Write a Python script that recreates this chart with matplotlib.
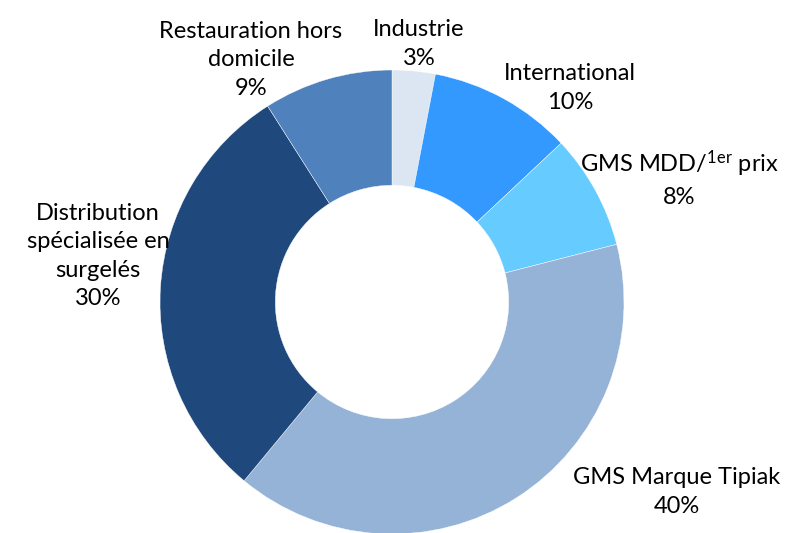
import matplotlib
matplotlib.use("Agg")
import matplotlib.pyplot as plt

plt.rcParams['font.family'] = ['Lato', 'DejaVu Sans']
plt.rcParams['mathtext.fontset'] = 'custom'
plt.rcParams['mathtext.rm'] = 'Lato'

# Data (clockwise from top)
labels = ["Industrie", "International", "GMS MDD/$\\mathregular{^{1er}}$ prix",
          "GMS Marque Tipiak", "Distribution\nspécialisée en\nsurgelés",
          "Restauration hors\ndomicile"]
shares = [3, 10, 8, 40, 30, 9]
colors = ["#dce6f2", "#3399ff", "#66ccff", "#95b3d7", "#1f497d", "#4f81bd"]

# label anchor positions in pixels (x, y from top)
label_pos = [(419, 44), (570, 88), (679, 178), (677, 492), (98, 256), (251, 60)]

fig = plt.figure(figsize=(7.91, 5.33), dpi=100)
ax = fig.add_axes([0, 0, 1, 1])

cx, cy, r = 392, 533 - 302, 232
ax.pie(shares, colors=colors, startangle=90, counterclock=False,
       center=(cx, cy), radius=r, frame=True,
       wedgeprops=dict(width=r * 0.497, edgecolor="white", linewidth=0.3))
ax.set_xlim(0, 791)
ax.set_ylim(0, 533)
ax.set_aspect("equal")
ax.axis("off")

for lab, val, (x, y) in zip(labels, shares, label_pos):
    ax.text(x, 533 - y, f"{lab}\n{val}%", ha="center", va="center",
            fontsize=17, color="black", linespacing=1.45)

fig.savefig("out.png", dpi=100)
